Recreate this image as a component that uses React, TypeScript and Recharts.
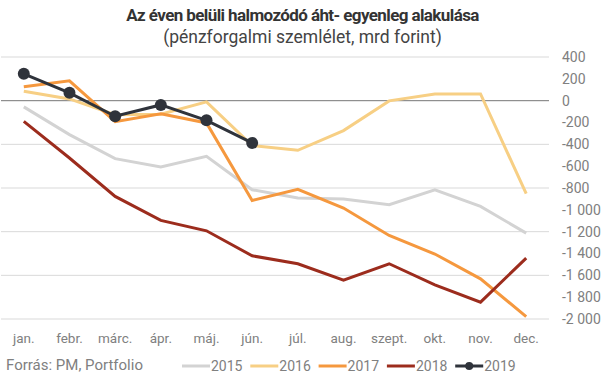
import { LineChart, Line, XAxis, YAxis, CartesianGrid, ReferenceLine } from "recharts";

const months = ["jan.", "febr.", "márc.", "ápr.", "máj.", "jún.", "júl.", "aug.", "szept.", "okt.", "nov.", "dec."];
const y2015 = [-57, -311, -531, -607, -510, -816, -892, -901, -953, -816, -969, -1213];
const y2016 = [86, 16, -128, -125, -11, -412, -455, -274, -2, 62, 62, -852];
const y2017 = [127, 182, -192, -121, -204, -914, -812, -984, -1235, -1405, -1632, -1978];
const y2018 = [-189, -525, -877, -1097, -1192, -1421, -1494, -1644, -1494, -1687, -1846, -1442];
const y2019 = [246, 72, -143, -39, -180, -387];
const yTicks = [400, 200, 0, -200, -400, -600, -800, -1000, -1200, -1400, -1600, -1800, -2000];

const series = [
  { key: "2015", values: y2015, color: "#d3d3d3" },
  { key: "2016", values: y2016, color: "#f7cf84" },
  { key: "2017", values: y2017, color: "#f5983e" },
  { key: "2018", values: y2018, color: "#9c2c1d" },
  { key: "2019", values: y2019, color: "#2f333b" },
];

const data = months.map((m, i) => {
  const row: Record<string, string | number | null> = { month: m };
  series.forEach((s) => {
    row[s.key] = i < s.values.length ? s.values[i] : null;
  });
  return row;
});

const fmt = (v: number) => {
  const a = Math.abs(v);
  const s = a >= 1000 ? Math.floor(a / 1000) + "\u00a0" + String(a % 1000).padStart(3, "0") : String(a);
  return (v < 0 ? "-" : "") + s;
};

const font = "Roboto, 'Noto Sans', sans-serif";

export default function App() {
  return (
    <div style={{ position: "absolute", left: 0, top: 0, width: 605, height: 378, background: "#fff", fontFamily: font }}>
      <div style={{ position: "absolute", top: 5, left: 0, width: 605, textAlign: "center", fontSize: 17, fontWeight: 700, color: "#333", letterSpacing: -0.6 }}>
        Az éven belüli halmozódó áht- egyenleg alakulása
      </div>
      <div style={{ position: "absolute", top: 27, left: 0, width: 605, textAlign: "center", fontSize: 17.5, color: "#444" }}>
        (pénzforgalmi szemlélet, mrd forint)
      </div>
      <div style={{ position: "absolute", left: 0, top: 0 }}>
        <LineChart width={605} height={378} data={data} margin={{ top: 57, right: 0, left: 1, bottom: 29 }}>
          <CartesianGrid vertical={false} stroke="#d9d9d9" strokeWidth={1} />
          <XAxis
            dataKey="month"
            axisLine={false}
            tickLine={false}
            tickSize={0}
            tickMargin={14}
            height={30}
            interval={0}
            padding={{ left: 22.8, right: 22.8 }}
            tick={{ fill: "#808080", fontSize: 13.5, fontFamily: font }}
          />
          <YAxis
            orientation="right"
            domain={[-2000, 400]}
            ticks={yTicks}
            width={56}
            axisLine={false}
            tickLine={false}
            tickSize={0}
            tickMargin={13}
            tickFormatter={fmt}
            tick={{ fill: "#808080", fontSize: 14, fontFamily: font, textAnchor: "start" }}
          />
          <ReferenceLine y={0} stroke="#808080" strokeWidth={1} />
          {series.map((s) => (
            <Line
              key={s.key}
              dataKey={s.key}
              stroke={s.color}
              strokeWidth={3}
              type="linear"
              dot={s.key === "2019" ? { r: 6, fill: s.color, stroke: s.color, strokeWidth: 0 } : false}
              activeDot={false}
              connectNulls={false}
              isAnimationActive={false}
            />
          ))}
        </LineChart>
      </div>
      <div style={{ position: "absolute", left: 6, top: 356, fontSize: 15, color: "#808080" }}>Forrás: PM, Portfolio</div>
      <svg style={{ position: "absolute", left: 0, top: 355 }} width={605} height={22}>
        {series.map((s, i) => {
          const x = 182 + i * 68.3;
          return (
            <g key={s.key}>
              <line x1={x} x2={x + 28} y1={11} y2={11} stroke={s.color} strokeWidth={3} />
              {s.key === "2019" && <circle cx={x + 14} cy={11} r={4} fill={s.color} />}
              <text x={x + 29} y={16} fontSize={14} fill="#808080" fontFamily={font}>
                {s.key}
              </text>
            </g>
          );
        })}
      </svg>
    </div>
  );
}
